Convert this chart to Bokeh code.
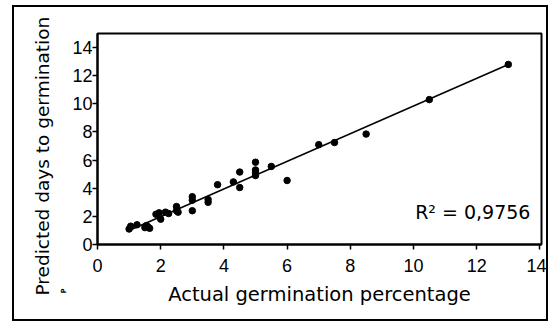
from bokeh.plotting import figure
from bokeh.models import Label, Range1d, FixedTicker, Title
from bokeh.embed import file_html
from bokeh.resources import INLINE

# Data
actual = [1.0, 1.05, 1.25, 1.5, 1.55, 1.6, 1.65, 1.85, 1.95, 2.0, 2.15, 2.25,
          2.5, 2.5, 2.55, 3.0, 3.0, 3.0, 3.5, 3.5, 3.8, 4.3, 4.5, 4.5,
          5.0, 5.0, 5.0, 5.0, 5.5, 6.0, 7.0, 7.5, 8.5, 10.5, 13.0]
predicted = [1.1, 1.3, 1.4, 1.2, 1.35, 1.25, 1.15, 2.15, 2.25, 1.8, 2.3, 2.2,
             2.7, 2.4, 2.3, 3.4, 3.15, 2.4, 3.0, 3.2, 4.25, 4.45, 4.05, 5.15,
             5.85, 5.3, 5.1, 4.9, 5.55, 4.55, 7.1, 7.25, 7.85, 10.3, 12.8]
fit_x = [1.0, 13.0]
fit_y = [1.0, 12.8]
ticks = [0, 2, 4, 6, 8, 10, 12, 14]
r2_text = "R\u00b2 = 0,9756"
x_title = "Actual germination percentage"
y_title = "Predicted days to germination"
y_sub = "P"

TICK_FONT = "Liberation Sans"
TITLE_FONT = "DejaVu Sans"

p = figure(width=536, height=316, output_backend="svg", toolbar_location=None,
           x_range=Range1d(0, 14.05), y_range=Range1d(0, 15.0),
           min_border_left=83, min_border_right=9, min_border_top=26, min_border_bottom=79)
p.styles = {"border": "2px solid black", "margin-left": "12px", "margin-top": "5px"}
p.background_fill_color = "white"
p.border_fill_color = "white"
p.outline_line_color = "black"
p.outline_line_width = 2
p.xgrid.visible = False
p.ygrid.visible = False

for ax in (p.xaxis, p.yaxis):
    ax.ticker = FixedTicker(ticks=ticks)
    ax.axis_line_color = "black"
    ax.axis_line_width = 2
    ax.major_tick_line_color = "black"
    ax.major_tick_line_width = 1.5
    ax.major_tick_out = 5
    ax.major_tick_in = 0
    ax.minor_tick_line_color = None
    ax.major_label_text_font = TICK_FONT
    ax.major_label_text_font_size = "18px"
    ax.major_label_text_color = "black"
    ax.axis_label_text_font = TITLE_FONT
    ax.axis_label_text_font_size = "19.5px"
    ax.axis_label_text_font_style = "normal"
    ax.axis_label_text_color = "black"

p.xaxis.axis_label = x_title
p.xaxis.major_label_standoff = 9
p.yaxis.major_label_standoff = 0
p.xaxis.axis_label_standoff = 8

# y-axis title and its small subscript mark, as side titles in the left panel
p.add_layout(Title(text=y_sub, align="left", offset=-49, standoff=3,
                   text_font=TITLE_FONT, text_font_size="7px", text_font_style="bold",
                   text_color="black"), "left")
p.add_layout(Title(text=y_title, align="left", offset=-51, standoff=7,
                   text_font=TITLE_FONT, text_font_size="18.5px", text_font_style="normal",
                   text_color="black"), "left")

p.line(fit_x, fit_y, line_color="black", line_width=1.6)
p.scatter(actual, predicted, size=6.5, marker="circle", fill_color="black", line_color="black")

p.add_layout(Label(x=13.7, y=1.5, text=r2_text, text_align="right",
                   text_font=TITLE_FONT, text_font_size="19px", text_color="black"))

open("out.html", "w").write(file_html(p, INLINE))
